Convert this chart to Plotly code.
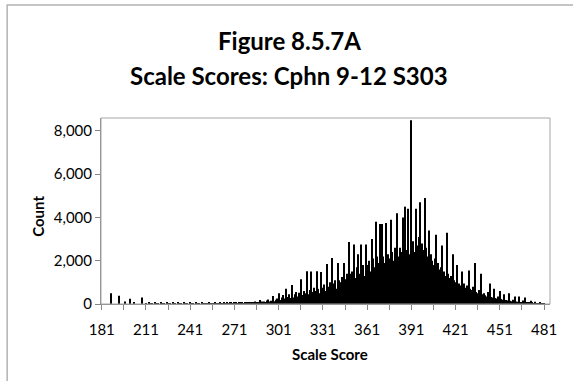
import plotly.graph_objects as go

# scale scores 181..481 and the count for each one
scores = list(range(181, 482))

counts = [
    0, 0, 0, 0, 0, 0, 500, 0, 0, 0,                              # 181-190
    0, 0, 380, 0, 0, 0, 110, 0, 0, 240,                          # 191-200
    0, 0, 70, 0, 0, 0, 0, 300, 0, 0,                             # 201-210
    40, 0, 50, 10, 40, 0, 50, 20, 40, 0,                         # 211-220
    50, 10, 40, 0, 50, 20, 40, 0, 50, 10,                        # 221-230
    40, 0, 50, 20, 40, 0, 50, 10, 40, 0,                         # 231-240
    50, 20, 40, 0, 50, 10, 40, 0, 50, 20,                        # 241-250
    30, 40, 20, 50, 30, 40, 30, 50, 40, 30,                      # 251-260
    50, 40, 30, 60, 40, 50, 30, 60, 50, 40,                      # 261-270
    60, 50, 40, 70, 50, 60, 40, 80, 60, 50,                      # 271-280
    80, 60, 90, 70, 110, 60, 90, 180, 80, 120,                   # 281-290
    120, 90, 160, 210, 110, 150, 370, 130, 200, 260,             # 291-300
    500, 180, 300, 420, 250, 700, 320, 450, 280, 880,            # 301-310
    300, 450, 550, 350, 520, 1150, 420, 600, 500, 1520,          # 311-320
    450, 650, 1500, 550, 750, 600, 1520, 700, 500, 1480,         # 321-330
    750, 900, 600, 1850, 800, 1000, 2130, 950, 1100, 700,        # 331-340
    1900, 1100, 1000, 1250, 1900, 1150, 1400, 700, 2870, 1400,   # 341-350
    1500, 2750, 1200, 1700, 2300, 1400, 2750, 1800, 1300, 2750,  # 351-360
    1800, 2000, 1500, 3000, 2100, 1700, 3800, 2200, 1900, 3700,  # 361-370
    3700, 2200, 1900, 3750, 2300, 2100, 3900, 2400, 2000, 2600,  # 371-380
    4200, 2200, 2600, 2400, 4000, 2700, 4500, 2500, 4400, 2300,  # 381-390
    8500, 2900, 2400, 4400, 2700, 3100, 4700, 2800, 2500, 4900,  # 391-400
    2600, 2200, 3400, 2300, 2000, 1800, 2100, 3200, 1900, 1600,  # 401-410
    1700, 2700, 1500, 1300, 3300, 1400, 1200, 1300, 2300, 1100,  # 411-420
    1000, 1800, 950, 850, 1500, 800, 950, 750, 850, 1550,        # 421-430
    700, 650, 800, 1900, 550, 500, 650, 1400, 450, 500,          # 431-440
    400, 350, 550, 950, 320, 300, 700, 280, 250, 350,            # 441-450
    600, 230, 200, 450, 180, 160, 500, 150, 130, 200,            # 451-460
    350, 120, 100, 350, 90, 80, 160, 300, 70, 80,                # 461-470
    60, 150, 50, 40, 100, 30, 30, 80, 20, 20,                    # 471-480
    30,                                                          # 481
]

tick_vals = list(range(181, 482, 15))
tick_text = [str(v) if (v - 181) % 30 == 0 else "" for v in tick_vals]

fig = go.Figure(go.Bar(x=scores, y=counts, marker=dict(color="black", line=dict(width=0))))

axis_grey = "#868686"
font_name = "Lato"

fig.update_layout(
    width=573, height=381,
    margin=dict(l=101, r=23, t=118, b=77),
    paper_bgcolor="white", plot_bgcolor="white",
    bargap=0.3,
    showlegend=False,
    font=dict(family=font_name, color="black"),
    xaxis=dict(
        range=[180.5, 485], tickmode="array", tickvals=tick_vals, ticktext=tick_text,
        ticks="outside", ticklen=5, tickcolor=axis_grey, showline=True, linecolor=axis_grey,
        showgrid=False, zeroline=False, tickfont=dict(size=15), ticklabelstandoff=7,
    ),
    yaxis=dict(
        range=[0, 8600], tickvals=[0, 2000, 4000, 6000, 8000], tickformat=",",
        ticks="outside", ticklen=5, tickcolor=axis_grey, showline=True, linecolor=axis_grey,
        showgrid=False, zeroline=False, tickfont=dict(size=15),
    ),
)

# titles
fig.add_annotation(text="<b>Figure 8.5.7A</b>", xref="paper", yref="paper", x=0.419, y=1.419,
                   showarrow=False, font=dict(size=24), xanchor="center", yanchor="middle")
fig.add_annotation(text="<b>Scale Scores: Cphn 9-12 S303</b>", xref="paper", yref="paper", x=0.419, y=1.226,
                   showarrow=False, font=dict(size=24), xanchor="center", yanchor="middle")
fig.add_annotation(text="<b>Scale Score</b>", xref="paper", yref="paper", x=0.51, y=-0.27,
                   showarrow=False, font=dict(size=15), xanchor="center", yanchor="middle")
fig.add_annotation(text="<b>Count</b>", xref="paper", yref="paper", x=-0.142, y=0.47, textangle=-90,
                   showarrow=False, font=dict(size=15), xanchor="center", yanchor="middle")

# plot-area box and outer chart border
fig.add_shape(type="rect", xref="paper", yref="paper", x0=0, x1=1, y0=0, y1=1,
              line=dict(color="#a6a6a6", width=1))
fig.add_shape(type="rect", xref="paper", yref="paper", x0=-0.209, x1=1.2, y0=-0.6, y1=1.607,
              line=dict(color="#b3b3b3", width=1.5))

fig.write_html("out.html", config={"displayModeBar": False},
               post_script="document.body.style.margin='0';")
